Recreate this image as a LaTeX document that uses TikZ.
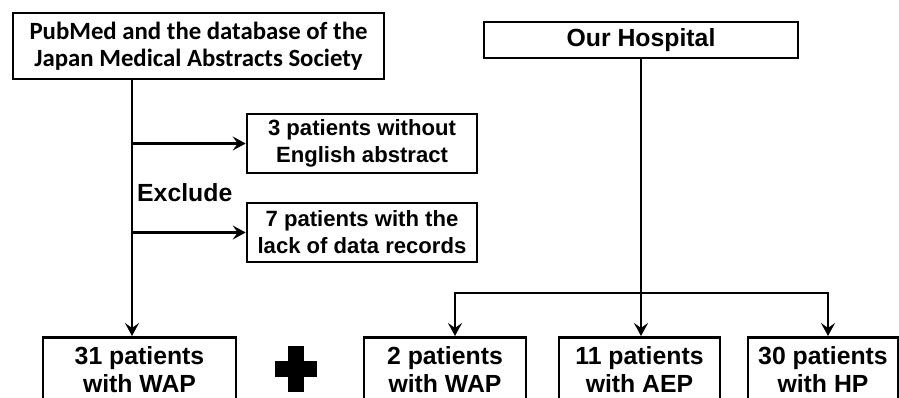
\documentclass[tikz,border=0pt]{standalone}
\usepackage{fontspec}
\setmainfont{Liberation Sans}
\newfontfamily\calfont{Carlito}
\usetikzlibrary{arrows.meta}
\begin{document}
\begin{tikzpicture}[x=1pt,y=-1pt,
  box/.style={draw, line width=2.6pt, inner sep=0pt, align=center,
    font=\fontsize{24.8}{27.5}\selectfont\bfseries},
  exbox/.style={box, minimum width=230pt, minimum height=59pt,
    font=\fontsize{22.1}{27}\selectfont\bfseries},
  botbox/.style={box, anchor=north, minimum height=65pt},
  ln/.style={line width=2.8pt},
  arr/.style={ln, -{Stealth[length=13pt,width=14pt,inset=5pt]}}]
\useasboundingbox (0,0) rectangle (899,397);
\clip (0,0) rectangle (899,397);

\node[box, minimum width=371pt, minimum height=66pt,
  font=\calfont\fontsize{24.8}{27}\selectfont\bfseries] (src) at (198.5,46)
  {PubMed and the database of the\\Japan Medical Abstracts Society};
\node[box, minimum width=314pt, minimum height=36pt] (hosp) at (641,40) {Our Hospital};

\node[exbox] (ex1) at (362,143.5) {3 patients without\\English abstract};
\node[exbox] (ex2) at (362,232.5) {7 patients with the\\lack of data records};
\node[anchor=west, font=\fontsize{24.8}{27}\selectfont\bfseries, inner sep=0pt] (exc) at (137,193) {Exclude};

\node[botbox, minimum width=193pt] (b1) at (139.5,336) {31 patients\\with WAP};
\node[botbox, minimum width=162pt] (b2) at (445,336) {2 patients\\with WAP};
\node[botbox, minimum width=161pt] (b3) at (639.5,336) {11 patients\\with AEP};
\node[botbox, minimum width=150pt] (b4) at (823,336) {30 patients\\with HP};

% plus sign
\fill (288,346) rectangle (304,392);
\fill (275,361) rectangle (317,377);

% left branch
\coordinate (s) at ([xshift=-66.5pt]src.south);
\draw[arr] (s) -- (s |- b1.north);
\draw[arr] (s |- ex1.west) -- (ex1.west);
\draw[arr] (s |- ex2.west) -- (ex2.west);

% right branch
\coordinate (j) at (641,293);
\draw[arr] (hosp.south) -- (hosp.south |- b3.north);
\draw[arr] (j) -| ([xshift=10pt]b2.north);
\draw[arr] (j) -| ([xshift=5pt]b4.north);
\end{tikzpicture}
\end{document}
